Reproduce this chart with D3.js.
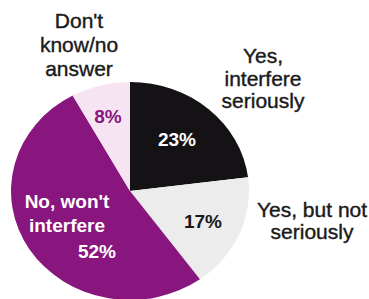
<!DOCTYPE html>
<html>
<head>
<meta charset="utf-8">
<script src="https://cdn.jsdelivr.net/npm/d3@7"></script>
<style>
  html, body { margin: 0; padding: 0; background: #fff; }
  svg { display: block; font-family: "Liberation Sans", Arial, sans-serif; }
</style>
</head>
<body>
<div id="chart"></div>
<script>
// answers, clockwise from 12 o'clock
const categories = ['Yes, interfere seriously', 'Yes, but not seriously', "No, won't interfere", "Don't know/no answer"];
const values = [23, 17, 52, 8];
const sliceColors = ['#141214', '#ececec', '#88167e', '#f7e4f3'];

// outside captions (one entry per line)
const captions = [
    { lines: ['Yes,', 'interfere', 'seriously'], x: 263, y: 63, dy: 22.5 },
    { lines: ['Yes, but not', 'seriously'], x: 312, y: 217, dy: 21.5 },
    { lines: ["Don't", 'know/no', 'answer'], x: 79, y: 28, dy: 24 }
];

const W = 369, H = 299;
const cx = 130, cy = 191, rx = 119, ry = 109;

const svg = d3.select('#chart').append('svg')
    .attr('width', W)
    .attr('height', H);

const pie = d3.pie().sort(null).value(d => d)(values);
const arc = d3.arc().innerRadius(0).outerRadius(rx);

svg.append('g')
    .attr('transform', `translate(${cx},${cy}) scale(1,${ry / rx})`)
    .selectAll('path')
    .data(pie)
    .join('path')
    .attr('d', arc)
    .attr('fill', (d, i) => sliceColors[i]);

// percentage labels inside slices
const pctLabels = [
    { x: 177, y: 146, fill: '#ffffff' },
    { x: 203, y: 228, fill: '#1a1a1a' },
    { x: 97, y: 258, fill: '#ffffff' },
    { x: 108, y: 123, fill: '#88167e' }
];
svg.selectAll('text.pct')
    .data(pie)
    .join('text')
    .attr('class', 'pct')
    .attr('x', (d, i) => pctLabels[i].x)
    .attr('y', (d, i) => pctLabels[i].y)
    .attr('text-anchor', 'middle')
    .style('font-size', '19px')
    .style('font-weight', 'bold')
    .style('fill', (d, i) => pctLabels[i].fill)
    .text(d => d.data + '%');

// category name inside the big slice
const inner = svg.append('text')
    .attr('text-anchor', 'middle')
    .style('font-size', '19px')
    .style('font-weight', 'bold')
    .style('fill', '#ffffff');
["No, won't", 'interfere'].forEach((t, i) => {
    inner.append('tspan').attr('x', 67).attr('y', 208 + i * 24).text(t);
});

captions.forEach(c => {
    const t = svg.append('text')
        .attr('text-anchor', 'middle')
        .style('font-size', '21px')
        .style('fill', '#1a1a1a')
        .style('stroke', '#1a1a1a')
        .style('stroke-width', 0.4);
    c.lines.forEach((line, i) => {
        t.append('tspan').attr('x', c.x).attr('y', c.y + i * c.dy).text(line);
    });
});
</script>
</body>
</html>
